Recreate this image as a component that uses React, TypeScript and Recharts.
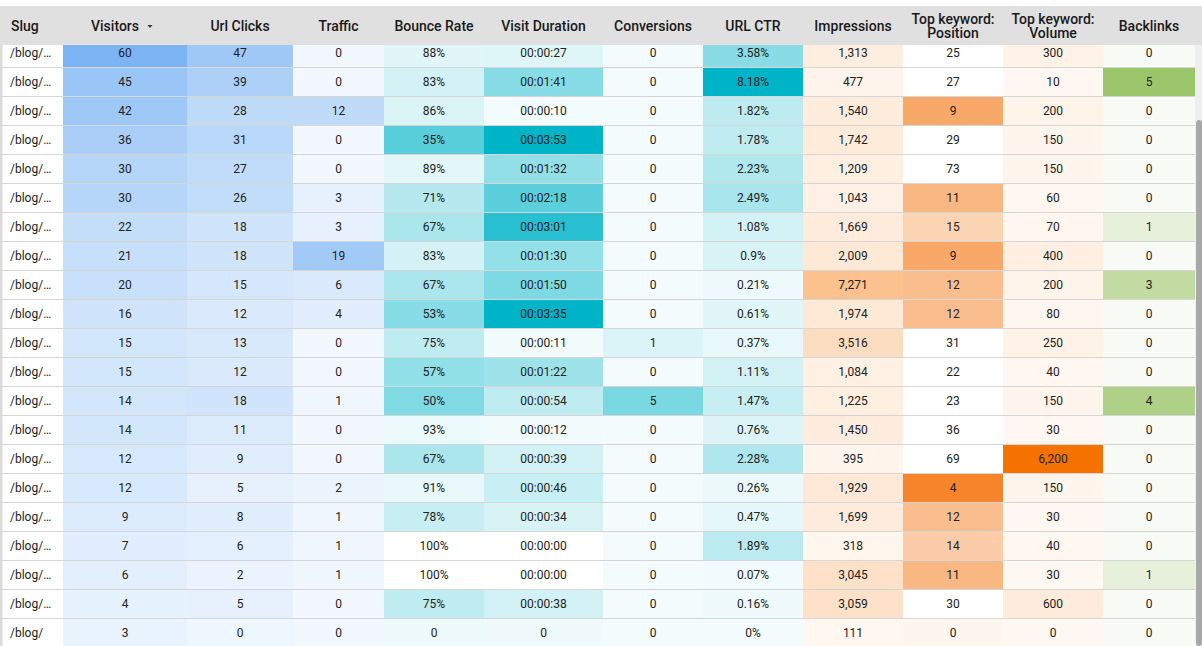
import React from 'react';
import { ScatterChart, Scatter, XAxis, YAxis } from 'recharts';

// ---------- data ----------
const slugs = [
  '/blog/…', '/blog/…', '/blog/…', '/blog/…', '/blog/…', '/blog/…', '/blog/…',
  '/blog/…', '/blog/…', '/blog/…', '/blog/…', '/blog/…', '/blog/…', '/blog/…',
  '/blog/…', '/blog/…', '/blog/…', '/blog/…', '/blog/…', '/blog/…', '/blog/',
];
const visitors = [60, 45, 42, 36, 30, 30, 22, 21, 20, 16, 15, 15, 14, 14, 12, 12, 9, 7, 6, 4, 3];
const urlClicks = [47, 39, 28, 31, 27, 26, 18, 18, 15, 12, 13, 12, 18, 11, 9, 5, 8, 6, 2, 5, 0];
const traffic = [0, 0, 12, 0, 0, 3, 3, 19, 6, 4, 0, 0, 1, 0, 0, 2, 1, 1, 1, 0, 0];
const bounceRate: (number | null)[] = [88, 83, 86, 35, 89, 71, 67, 83, 67, 53, 75, 57, 50, 93, 67, 91, 78, 100, 100, 75, null];
const visitDurationSec: (number | null)[] = [27, 101, 10, 233, 92, 138, 181, 90, 110, 215, 11, 82, 54, 12, 39, 46, 34, 0, 0, 38, null];
const conversions = [0, 0, 0, 0, 0, 0, 0, 0, 0, 0, 1, 0, 5, 0, 0, 0, 0, 0, 0, 0, 0];
const urlCtr = [3.58, 8.18, 1.82, 1.78, 2.23, 2.49, 1.08, 0.9, 0.21, 0.61, 0.37, 1.11, 1.47, 0.76, 2.28, 0.26, 0.47, 1.89, 0.07, 0.16, 0];
const impressions = [1313, 477, 1540, 1742, 1209, 1043, 1669, 2009, 7271, 1974, 3516, 1084, 1225, 1450, 395, 1929, 1699, 318, 3045, 3059, 111];
const kwPosition: (number | null)[] = [25, 27, 9, 29, 73, 11, 15, 9, 12, 12, 31, 22, 23, 36, 69, 4, 12, 14, 11, 30, null];
const kwVolume = [300, 10, 200, 150, 150, 60, 70, 400, 200, 80, 250, 40, 150, 30, 6200, 150, 30, 40, 30, 600, 0];
const backlinks = [0, 5, 0, 0, 0, 0, 1, 0, 3, 0, 0, 0, 4, 0, 0, 0, 0, 0, 1, 0, 0];

const headers: string[][] = [
  ['Slug'], ['Visitors'], ['Url Clicks'], ['Traffic'], ['Bounce Rate'], ['Visit Duration'],
  ['Conversions'], ['URL CTR'], ['Impressions'], ['Top keyword:', 'Position'], ['Top keyword:', 'Volume'], ['Backlinks'],
];

// ---------- layout / style ----------
const COL_EDGES = [0, 63, 187, 293, 384, 484, 603, 703, 803, 903, 1003, 1103, 1195];
const COL_CENTERS = COL_EDGES.slice(0, -1).map((e, i) => (e + COL_EDGES[i + 1]) / 2);
const FONT = 'Roboto, "Noto Sans", sans-serif';

const hex = (h: string) => [1, 3, 5].map((i) => parseInt(h.slice(i, i + 2), 16));
const mix = (a: string, b: string, t: number) => {
  const tt = Math.max(0, Math.min(1, t));
  const A = hex(a), B = hex(b);
  return 'rgb(' + A.map((v, i) => Math.round(v + (B[i] - v) * tt)).join(',') + ')';
};
const BLUE = '#7cb4f4', TEAL = '#00b4c8', ORANGE = '#f57200', ORANGE2 = '#f5842a', GREEN = '#9cc66c';

const pad = (n: number) => String(n).padStart(2, '0');
const fmtDur = (s: number | null) => (s === null ? '0' : `${pad(Math.floor(s / 3600))}:${pad(Math.floor((s % 3600) / 60))}:${pad(s % 60)}`);
const fmtInt = (v: number | null) => (v === null ? '0' : v.toLocaleString('en-US'));

type Col = { values: (number | string | null)[]; fmt: (v: any) => string; color: (v: any) => string };
const columns: Col[] = [
  { values: slugs, fmt: (v) => v, color: () => '#ffffff' },
  { values: visitors, fmt: fmtInt, color: (v) => mix('#eef6fe', BLUE, v / 60) },
  { values: urlClicks, fmt: fmtInt, color: (v) => mix('#eef6fe', BLUE, v / 68) },
  { values: traffic, fmt: fmtInt, color: (v) => mix('#f3f8fe', BLUE, v / 28) },
  { values: bounceRate, fmt: (v) => (v === null ? '0' : v + '%'), color: (v) => (v === null ? '#eefafb' : mix('#ffffff', TEAL, (100 - v) / 100)) },
  { values: visitDurationSec, fmt: fmtDur, color: (v) => (v === null ? '#f0fafc' : mix('#ffffff', TEAL, v / 215)) },
  { values: conversions, fmt: fmtInt, color: (v) => mix('#f3fbfc', TEAL, v / 10) },
  { values: urlCtr, fmt: (v) => String(v) + '%', color: (v) => mix('#f3fbfc', TEAL, v / 8.18) },
  { values: impressions, fmt: fmtInt, color: (v) => mix('#fff8f2', ORANGE, v / 17700) },
  { values: kwPosition, fmt: fmtInt, color: (v) => (v === null ? '#fdf6ef' : mix('#ffffff', ORANGE2, (21 - v) / 17)) },
  { values: kwVolume, fmt: fmtInt, color: (v) => mix('#fff8f2', ORANGE, v / 6200) },
  { values: backlinks, fmt: fmtInt, color: (v) => mix('#f8faf5', GREEN, v / 5) },
];

const seriesData = columns.map((c, j) =>
  c.values.map((v, i) => ({ x: COL_CENTERS[j], y: i, label: c.fmt(v), fill: c.color(v) }))
);

const ROW_H = 29;

const makeShape = (j: number) => (props: any) => {
  const { cx, cy, payload } = props;
  const w = COL_EDGES[j + 1] - COL_EDGES[j];
  const left = cx - w / 2;
  return (
    <g>
      <rect x={left} y={cy - ROW_H / 2} width={w} height={ROW_H} fill={payload.fill} />
      {j === 0 && <rect x={left} y={cy - ROW_H / 2} width={2.5} height={ROW_H} fill="#dadada" />}
      <rect x={left} y={cy + ROW_H / 2 - 1} width={w} height={1} fill="#d6d6d6" />
      <text
        x={j === 0 ? left + 10 : cx}
        y={cy - 0.5}
        textAnchor={j === 0 ? 'start' : 'middle'}
        dominantBaseline="central"
        fontFamily={FONT}
        fontSize={12}
        fill="#222222"
      >
        {payload.label}
      </text>
    </g>
  );
};

const HeaderTick = (props: any) => {
  const { x, payload } = props;
  const i = COL_CENTERS.indexOf(payload.value);
  if (i < 0) return null;
  const w = COL_EDGES[i + 1] - COL_EDGES[i];
  const left = x - w / 2;
  const lines = headers[i];
  const common = { fontFamily: FONT, fontSize: 14, fontWeight: 500, fill: '#1a1a1a', dominantBaseline: 'central' as const };
  return (
    <g>
      <rect x={left} y={6} width={w} height={39} fill="#e0e0e0" />
      {i === 0 ? (
        <text x={left + 11} y={26} textAnchor="start" {...common}>{lines[0]}</text>
      ) : i === 1 ? (
        <g>
          <text x={x - 10} y={26} textAnchor="middle" {...common}>{lines[0]}</text>
          <path d={`M${x + 22.5},25 L${x + 27.5},25 L${x + 25},28 Z`} fill="#333" />
        </g>
      ) : lines.length === 1 ? (
        <text x={x} y={26} textAnchor="middle" {...common}>{lines[0]}</text>
      ) : (
        <g>
          <text x={x} y={19} textAnchor="middle" {...common}>{lines[0]}</text>
          <text x={x} y={33} textAnchor="middle" {...common}>{lines[1]}</text>
        </g>
      )}
    </g>
  );
};

export default function App() {
  return (
    <div style={{ position: 'absolute', left: 0, top: 0, width: 1202, height: 646, overflow: 'hidden', background: '#fff' }}>
      <ScatterChart width={1202} height={646} margin={{ top: 0, right: 7, bottom: 0, left: 0 }}>
        <XAxis
          type="number"
          dataKey="x"
          domain={[0, 1195]}
          allowDataOverflow
          orientation="top"
          height={45}
          ticks={COL_CENTERS}
          interval={0}
          tick={<HeaderTick />}
          axisLine={false}
          tickLine={false}
        />
        <YAxis
          type="number"
          dataKey="y"
          domain={[-8.5 / ROW_H, 592.5 / ROW_H]}
          allowDataOverflow
          reversed
          hide
          width={0}
        />
        {seriesData.map((d, j) => (
          <Scatter key={j} data={d} shape={makeShape(j)} isAnimationActive={false} />
        ))}
      </ScatterChart>
      <div style={{ position: 'absolute', left: 1195, top: 6, width: 7, height: 39, background: '#e0e0e0' }} />
      <div style={{ position: 'absolute', left: 1195, top: 45, width: 7, height: 601, background: '#efefef' }} />
      <div style={{ position: 'absolute', left: 1196, top: 120, width: 6, height: 526, background: '#a8a8a8', borderRadius: 3 }} />
    </div>
  );
}
